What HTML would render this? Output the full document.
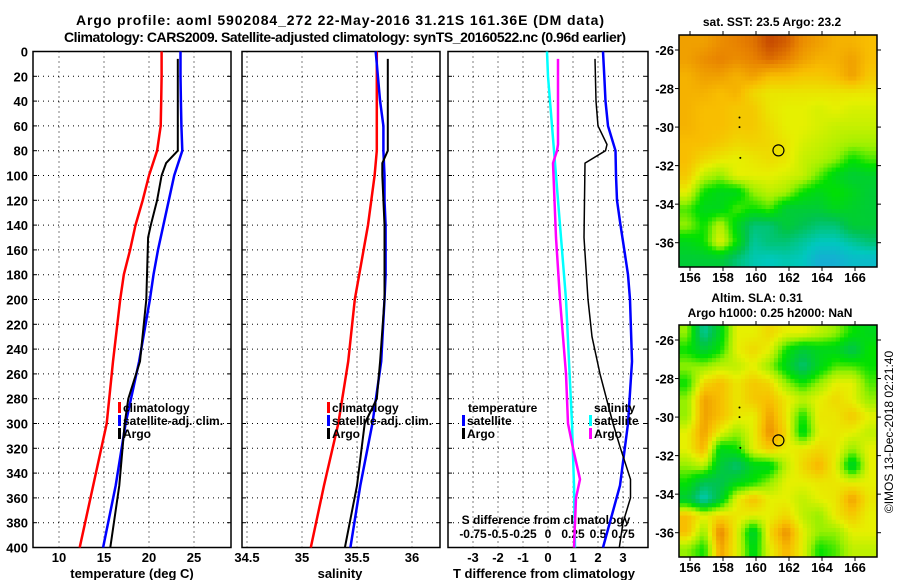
<!DOCTYPE html>
<html><head><meta charset="utf-8">
<style>
html,body{margin:0;padding:0;background:#fff;}
svg{display:block;font-family:"Liberation Sans",Arial,sans-serif;font-weight:bold;}
</style></head>
<body>
<svg id="c" width="900" height="580" viewBox="0 0 900 580" xmlns="http://www.w3.org/2000/svg">
<text x="340" y="25" text-anchor="middle" font-size="14" textLength="528">Argo profile: aoml 5902084_272 22-May-2016 31.21S 161.36E (DM data)</text>
<text x="345" y="42" text-anchor="middle" font-size="14" textLength="562">Climatology: CARS2009. Satellite-adjusted climatology: synTS_20160522.nc (0.96d earlier)</text>
<g id="g"></g>
</svg>
<script>
// ---- data ----
const depthsClim = [0,20,40,60,80,100,120,140,160,180,200,250,300,350,400];
const tClim = [21.4,21.4,21.35,21.3,20.9,20.0,19.3,18.5,17.9,17.2,16.8,16.0,15.3,13.8,12.3];
const tSat = [23.5,23.5,23.55,23.6,23.7,22.8,22.2,21.6,21.0,20.5,20.1,18.9,17.4,16.3,14.9];
const depthsArgo = [6,40,80,90,100,120,140,150,200,250,280,300,350,400];
const tArgo = [23.2,23.2,23.2,21.9,21.4,20.9,20.2,19.9,19.7,19.0,17.7,17.3,16.7,15.7];
const sClim = [35.68,35.68,35.68,35.68,35.68,35.66,35.63,35.6,35.56,35.52,35.48,35.42,35.33,35.2,35.08];
const sSat = [35.67,35.69,35.71,35.74,35.74,35.75,35.75,35.76,35.76,35.76,35.75,35.72,35.64,35.53,35.44];
const sArgo = [35.78,35.78,35.78,35.73,35.73,35.74,35.75,35.75,35.75,35.71,35.68,35.57,35.5,35.39];
const dTSat = [2.2,2.25,2.3,2.4,2.7,2.72,2.76,2.9,3.05,3.2,3.28,3.36,3.2,2.88,2.2];
const depthsArgoD = [6,40,60,75,80,90,150,200,230,260,300,320,345,360,380,400];
const dTArgo = [1.88,1.92,2.0,2.36,2.3,1.48,1.44,1.6,1.76,2.08,2.6,2.9,3.3,3.3,3.0,2.85];
const dSSat = [-0.01,0.0,0.02,0.04,0.06,0.08,0.1,0.12,0.14,0.16,0.18,0.21,0.24,0.26,0.27];
const dSArgo = [0.1,0.1,0.1,0.1,0.09,0.05,0.08,0.12,0.15,0.18,0.2,0.25,0.32,0.28,0.27,0.26];
const depthTicks = [0,20,40,60,80,100,120,140,160,180,200,220,240,260,280,300,320,340,360,380,400];
const tTicks = [10,15,20,25];
const sTicks = [34.5,35,35.5,36];
const dTTicks = [-3,-2,-1,0,1,2,3];
const dSTickLabels = ["-0.75","-0.5","-0.25","0","0.25","0.5","0.75"];
const lonTicks = [156,158,160,162,164,166];
const latTicks = [-26,-28,-30,-32,-34,-36];
const sstGrid = [
[0.85,0.85,0.88,0.9,0.92,0.98,0.95,0.88,0.85,0.82,0.82,0.8],
[0.85,0.88,0.9,0.88,0.9,0.93,0.9,0.85,0.82,0.82,0.85,0.8],
[0.82,0.85,0.85,0.82,0.85,0.8,0.8,0.78,0.78,0.8,0.85,0.78],
[0.82,0.82,0.8,0.82,0.75,0.72,0.72,0.72,0.72,0.72,0.72,0.72],
[0.82,0.8,0.8,0.78,0.78,0.72,0.7,0.7,0.68,0.7,0.68,0.68],
[0.82,0.8,0.8,0.78,0.78,0.74,0.7,0.7,0.68,0.66,0.66,0.66],
[0.8,0.8,0.78,0.75,0.76,0.75,0.72,0.68,0.66,0.64,0.62,0.62],
[0.8,0.75,0.72,0.7,0.72,0.74,0.72,0.66,0.64,0.6,0.5,0.55],
[0.78,0.65,0.6,0.7,0.7,0.7,0.68,0.66,0.56,0.45,0.4,0.42],
[0.7,0.5,0.45,0.45,0.6,0.65,0.62,0.5,0.45,0.5,0.45,0.4],
[0.55,0.45,0.45,0.55,0.5,0.55,0.4,0.4,0.4,0.45,0.42,0.4],
[0.6,0.5,0.65,0.45,0.3,0.3,0.4,0.35,0.3,0.3,0.4,0.4],
[0.45,0.5,0.7,0.5,0.25,0.3,0.3,0.25,0.2,0.2,0.25,0.3],
[0.4,0.4,0.4,0.3,0.22,0.2,0.22,0.2,0.1,0.1,0.15,0.15]];
const slaGrid = [
[0.6,0.25,0.45,0.7,0.7,0.75,0.7,0.7,0.65,0.6,0.5,0.45],
[0.5,0.4,0.5,0.7,0.75,0.7,0.5,0.4,0.45,0.45,0.35,0.5],
[0.6,0.6,0.65,0.65,0.7,0.6,0.45,0.3,0.45,0.55,0.55,0.5],
[0.5,0.75,0.8,0.72,0.78,0.75,0.6,0.5,0.6,0.7,0.7,0.55],
[0.6,0.85,0.8,0.72,0.78,0.8,0.72,0.65,0.7,0.75,0.7,0.6],
[0.6,0.85,0.8,0.72,0.7,0.85,0.72,0.5,0.72,0.72,0.78,0.7],
[0.7,0.85,0.7,0.6,0.7,0.88,0.75,0.45,0.7,0.72,0.7,0.65],
[0.7,0.82,0.45,0.5,0.7,0.78,0.7,0.72,0.75,0.72,0.6,0.7],
[0.6,0.65,0.4,0.3,0.45,0.45,0.65,0.75,0.82,0.7,0.4,0.7],
[0.5,0.35,0.35,0.45,0.5,0.6,0.7,0.7,0.72,0.72,0.7,0.7],
[0.4,0.2,0.4,0.7,0.8,0.7,0.7,0.65,0.7,0.72,0.85,0.72],
[0.8,0.7,0.75,0.72,0.7,0.7,0.75,0.65,0.6,0.72,0.78,0.7],
[0.8,0.6,0.9,0.7,0.4,0.75,0.88,0.7,0.6,0.6,0.7,0.7],
[0.6,0.5,0.85,0.7,0.45,0.7,0.82,0.7,0.5,0.55,0.65,0.65]];
const floatLon = 161.36, floatLat = -31.21;

// ---- helpers ----
const NS="http://www.w3.org/2000/svg";
const G=document.getElementById('g');
function mk(tag,attrs,parent){const e=document.createElementNS(NS,tag);for(const k in attrs)e.setAttribute(k,attrs[k]);(parent||G).appendChild(e);return e;}
function txt(x,y,s,size,anchor,parent){const e=mk('text',{x:x,y:y,'font-size':size,'text-anchor':anchor||'middle'},parent);e.textContent=s;return e;}
const yD=d=>51.5+1.24*d;
const xT=v=>59+9*(v-10);
const xS=v=>247+110*(v-34.5);
const xDT=v=>548+25*v;
const xDS=v=>548+100*v;
const TOP=51.5,BOT=547.5;
const panels=[{x0:33,x1:231,name:'temperature-panel'},{x0:242,x1:440,name:'salinity-panel'},{x0:448,x1:648,name:'difference-panel'}];

function drawFrame(p,vgrid){
  const g=mk('g',{});
  
  
  depthTicks.forEach(d=>{ if(d>0&&d<400){ const l=mk('line',{x1:p.x0,x2:p.x1,y1:yD(d),y2:yD(d),stroke:'#000','stroke-width':1,'stroke-dasharray':'1,4'},g);
     
    mk('line',{x1:p.x0,x2:p.x0+4,y1:yD(d),y2:yD(d),stroke:'#000'},g);
    mk('line',{x1:p.x1,x2:p.x1-4,y1:yD(d),y2:yD(d),stroke:'#000'},g);} });
  vgrid.forEach(x=>{ const l=mk('line',{x1:x,x2:x,y1:TOP,y2:BOT,stroke:'#000','stroke-width':1,'stroke-dasharray':'1,4'},g);
     });
  const r=mk('rect',{x:p.x0,y:TOP,width:p.x1-p.x0,height:BOT-TOP,fill:'none',stroke:'#000','stroke-width':1.5},g);
   
  return g;
}
function line(xs,ds,xf,color,w,name){
  const pts=xs.map((v,i)=>xf(v).toFixed(1)+','+yD(ds[i]).toFixed(1)).join(' ');
  const e=mk('polyline',{points:pts,fill:'none',stroke:color,'stroke-width':w,'stroke-linejoin':'round'});
  
  
}
function legend(x,y,color,label,name){
  const b=mk('rect',{x:x,y:y-10,width:3,height:11,fill:color});
  
  
  const t=txt(x+5,y,label,12,'start');
  
  
}

// Panel 1
drawFrame(panels[0],tTicks.map(xT));
depthTicks.forEach(d=>{const t=txt(28,yD(d)+5,String(d),13,'end');  });
tTicks.forEach(v=>{const t=txt(xT(v),562,String(v),13);  });
let at=txt(132,578,'temperature (deg C)',13);  
line(tClim,depthsClim,xT,'#ff0000',2.5,'temperature-climatology-line');
line(tSat,depthsClim,xT,'#0000ff',2.5,'temperature-satellite-line');
line(tArgo,depthsArgo,xT,'#000000',2,'temperature-argo-line');
legend(118,412,'#ff0000','climatology','legend-climatology');
legend(118,425,'#0000ff','satellite-adj. clim.','legend-satellite-adj');
legend(118,438,'#000000','Argo','legend-argo');

// Panel 2
drawFrame(panels[1],sTicks.map(xS).filter(x=>x>243));
sTicks.forEach(v=>{const t=txt(xS(v),562,String(v),13);  });
at=txt(340,578,'salinity',13);  
line(sClim,depthsClim,xS,'#ff0000',2.5,'salinity-climatology-line');
line(sSat,depthsClim,xS,'#0000ff',2.5,'salinity-satellite-line');
line(sArgo,depthsArgo,xS,'#000000',2,'salinity-argo-line');
legend(327,412,'#ff0000','climatology','legend-climatology-s');
legend(327,425,'#0000ff','satellite-adj. clim.','legend-satellite-adj-s');
legend(327,438,'#000000','Argo','legend-argo-s');

// Panel 3
drawFrame(panels[2],dTTicks.map(xDT));
dTTicks.forEach(v=>{const t=txt(xDT(v),562,String(v),13);  });
at=txt(544,578,'T difference from climatology',13);  
at=txt(546,524,'S difference from climatology',12);  
dSTickLabels.forEach((s,i)=>{const t=txt(xDT(-3+i),538,s,12);  });
line(dSSat,depthsClim,xDS,'#00ffff',2.5,'s-diff-satellite-line');
line(dSArgo,depthsArgoD,xDS,'#ff00ff',2.5,'s-diff-argo-line');
line(dTSat,depthsClim,xDT,'#0000ff',2.5,'t-diff-satellite-line');
line(dTArgo,depthsArgoD,xDT,'#000000',1.5,'t-diff-argo-line');
at=txt(468,412,'temperature',12,'start');  
legend(462,425,'#0000ff','satellite','legend-t-satellite');
legend(462,438,'#000000','Argo','legend-t-argo');
at=txt(594,412,'salinity',12,'start');  
legend(589,425,'#00ffff','satellite','legend-s-satellite');
legend(589,438,'#ff00ff','Argo','legend-s-argo');

// Maps
const cmStops=[[0,[40,150,230]],[0.2,[0,200,190]],[0.35,[0,195,80]],[0.5,[0,225,0]],[0.6,[150,240,0]],[0.7,[230,240,0]],[0.8,[248,190,0]],[0.9,[232,130,0]],[1,[190,60,0]]];
function cmap(v){for(let i=1;i<cmStops.length;i++){if(v<=cmStops[i][0]){const a=cmStops[i-1],b=cmStops[i];const f=(v-a[0])/(b[0]-a[0]);const c=a[1].map((q,j)=>Math.round(q+(b[1][j]-q)*f));return 'rgb('+c.join(',')+')';}}return 'rgb(190,60,0)';}
function sample(grid,u,v){
  const rows=grid.length,cols=grid[0].length;
  u=Math.max(0,Math.min(cols-1,u)); v=Math.max(0,Math.min(rows-1,v));
  const c0=Math.floor(u),r0=Math.floor(v),c1=Math.min(cols-1,c0+1),r1=Math.min(rows-1,r0+1);
  const fu=u-c0,fv=v-r0;
  return (grid[r0][c0]*(1-fu)+grid[r0][c1]*fu)*(1-fv)+(grid[r1][c0]*(1-fu)+grid[r1][c1]*fu)*fv;
}
function drawMap(grid,x0,y0,x1,y1,lat26y,lat36y,name){
  const g=mk('g',{});
  
  
  const rows=grid.length,cols=grid[0].length,S=4,fr=rows*S,fc=cols*S,cw=(x1-x0)/fc,ch=(y1-y0)/fr;
  for(let r=0;r<fr;r++)for(let c=0;c<fc;c++){
    const val=sample(grid,(c+0.5)/S-0.5,(r+0.5)/S-0.5);
    const e=mk('rect',{x:(x0+c*cw).toFixed(2),y:(y0+r*ch).toFixed(2),width:(cw+0.5).toFixed(2),height:(ch+0.5).toFixed(2),fill:cmap(val)},g);
    
    
  }
  const lonX=l=>690+16.5*(l-156);
  const latY=l=>lat26y+(lat36y-lat26y)*(l+26)/(-10);
  mk('rect',{x:x0,y:y0,width:x1-x0,height:y1-y0,fill:'none',stroke:'#000','stroke-width':1.5},g);
  lonTicks.forEach(l=>{mk('line',{x1:lonX(l),x2:lonX(l),y1:y1,y2:y1+4,stroke:'#000'},g);mk('line',{x1:lonX(l),x2:lonX(l),y1:y0,y2:y0-4,stroke:'#000'},g);
    const t=txt(lonX(l),y1+15,String(l),13,'middle',g);  });
  latTicks.forEach(l=>{mk('line',{x1:x0-4,x2:x0,y1:latY(l),y2:latY(l),stroke:'#000'},g);mk('line',{x1:x1,x2:x1+4,y1:latY(l),y2:latY(l),stroke:'#000'},g);
    const t=txt(x0-5,latY(l)+5,String(l),13,'end',g);  });
  [[159,-29.5],[159,-30],[159.05,-31.6]].forEach(p=>mk('circle',{cx:lonX(p[0]),cy:latY(p[1]),r:1,fill:'#000'},g));
  const c=mk('circle',{cx:lonX(floatLon),cy:latY(floatLat),r:5.5,fill:'none',stroke:'#000','stroke-width':1.2},g);
  
  
}
drawMap(sstGrid,679,35,877,267,50,242.7,'sst-map');
drawMap(slaGrid,679,325,877,557,340,532.7,'sla-map');
let mt=txt(772,26,'sat. SST: 23.5 Argo: 23.2',12);  
mt=txt(757,302,'Altim. SLA: 0.31',12);  
mt=txt(770,317,'Argo h1000: 0.25 h2000: NaN',12);  
mt=mk('text',{x:0,y:0,'font-size':12,'text-anchor':'middle','font-weight':'normal',transform:'translate(893,432) rotate(-90)'});
mt.textContent='©IMOS 13-Dec-2018 02:21:40';


</script>
</body></html>
